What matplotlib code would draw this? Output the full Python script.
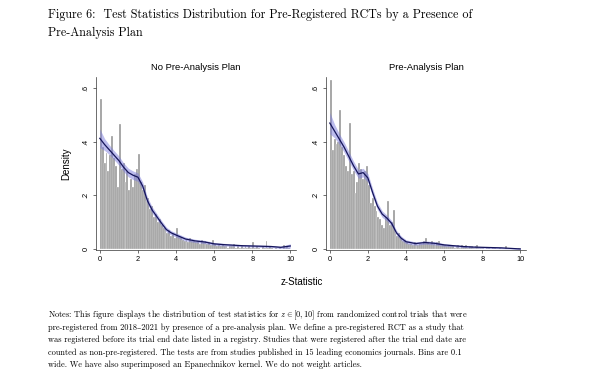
import numpy as np
import matplotlib
matplotlib.use('Agg')
import matplotlib.pyplot as plt

plt.rcParams['mathtext.fontset'] = 'cm'

# histogram heights (density), bins of width 0.1 from 0 to 10
no_pap = [0.56, 0.38, 0.32, 0.36, 0.29, 0.35, 0.42, 0.34, 0.31, 0.23,
          0.465, 0.30, 0.32, 0.25, 0.29, 0.22, 0.26, 0.23, 0.28, 0.30,
          0.355, 0.25, 0.22, 0.24, 0.18, 0.19, 0.15, 0.16, 0.12, 0.13,
          0.10, 0.11, 0.09, 0.08, 0.075, 0.06, 0.07, 0.05, 0.055, 0.04,
          0.08, 0.05, 0.045, 0.035, 0.03, 0.035, 0.025, 0.04, 0.03, 0.03,
          0.025, 0.03, 0.02, 0.035, 0.025, 0.03, 0.02, 0.025, 0.015, 0.035,
          0.02, 0.01, 0.015, 0.01, 0.015, 0.01, 0.01, 0.005, 0.01, 0.01,
          0.02, 0.005, 0.01, 0.005, 0.01, 0.005, 0.01, 0.005, 0.01, 0.005,
          0.025, 0.005, 0.01, 0.005, 0.0, 0.01, 0.005, 0.03, 0.005, 0.01,
          0.005, 0.0, 0.005, 0.0, 0.005, 0.0, 0.015, 0.005, 0.01, 0.005]
pap = [0.63, 0.37, 0.41, 0.39, 0.40, 0.52, 0.38, 0.35, 0.31, 0.29,
       0.47, 0.28, 0.29, 0.21, 0.25, 0.32, 0.30, 0.26, 0.29, 0.31,
       0.24, 0.17, 0.19, 0.16, 0.14, 0.12, 0.11, 0.09, 0.08, 0.12,
       0.18, 0.09, 0.10, 0.145, 0.06, 0.05, 0.06, 0.04, 0.03, 0.035,
       0.025, 0.02, 0.02, 0.015, 0.025, 0.02, 0.015, 0.02, 0.02, 0.03,
       0.04, 0.025, 0.02, 0.03, 0.02, 0.015, 0.025, 0.03, 0.015, 0.02,
       0.015, 0.01, 0.015, 0.01, 0.01, 0.005, 0.01, 0.015, 0.005, 0.015,
       0.01, 0.015, 0.005, 0.01, 0.01, 0.005, 0.01, 0.015, 0.005, 0.005,
       0.005, 0.0, 0.005, 0.005, 0.0, 0.005, 0.005, 0.0, 0.0, 0.005,
       0.0, 0.0, 0.01, 0.0, 0.0, 0.0, 0.0, 0.0, 0.0, 0.005]

# kernel density line and confidence band half-width
kde_x = [0, 0.25, 0.5, 0.75, 1.0, 1.25, 1.5, 1.75, 2.0, 2.25, 2.5, 2.75, 3.0, 3.25,
         3.5, 3.75, 4.0, 4.5, 5.0, 5.5, 6.0, 6.5, 7.0, 7.5, 8.0, 8.5, 9.0, 9.5, 10.0]
kde_no_pap = [0.413, 0.39, 0.37, 0.35, 0.33, 0.305, 0.285, 0.275, 0.268, 0.235, 0.18,
              0.145, 0.12, 0.095, 0.072, 0.06, 0.052, 0.037, 0.03, 0.026, 0.019, 0.016,
              0.014, 0.012, 0.011, 0.01, 0.009, 0.006, 0.011]
band_no_pap = [0.035, 0.022, 0.018, 0.017, 0.017, 0.016, 0.016, 0.016, 0.016, 0.015,
               0.013, 0.012, 0.011, 0.01, 0.009, 0.008, 0.008, 0.007, 0.006, 0.006,
               0.005, 0.005, 0.004, 0.004, 0.004, 0.004, 0.004, 0.004, 0.008]
kde_pap = [0.47, 0.44, 0.41, 0.38, 0.345, 0.31, 0.28, 0.285, 0.265, 0.21, 0.16, 0.13,
           0.115, 0.095, 0.06, 0.04, 0.027, 0.02, 0.024, 0.021, 0.015, 0.012, 0.009,
           0.007, 0.006, 0.005, 0.004, 0.002, 0.0]
band_pap = [0.04, 0.025, 0.02, 0.019, 0.018, 0.017, 0.016, 0.016, 0.016, 0.015, 0.013,
            0.012, 0.011, 0.01, 0.009, 0.008, 0.007, 0.006, 0.006, 0.006, 0.005, 0.004,
            0.004, 0.003, 0.003, 0.003, 0.003, 0.002, 0.003]

panel_titles = ['No Pre-Analysis Plan', 'Pre-Analysis Plan']
bin_edges = np.arange(0, 10, 0.1)

title_lines = ['Figure 6:  Test Statistics Distribution for Pre-Registered RCTs by a Presence of',
               'Pre-Analysis Plan']
notes_lines = [
    r'Notes: This figure displays the distribution of test statistics for $z \in [0, 10]$ from randomized control trials that were',
    'pre-registered from 2018\u20132021 by presence of a pre-analysis plan. We define a pre-registered RCT as a study that',
    'was registered before its trial end date listed in a registry. Studies that were registered after the trial end date are',
    'counted as non-pre-registered. The tests are from studies published in 15 leading economics journals. Bins are 0.1',
    'wide. We have also superimposed an Epanechnikov kernel. We do not weight articles.',
]

fig = plt.figure(figsize=(6, 3.69), dpi=100)
W, H = 600, 369

for i, line in enumerate(title_lines):
    fig.text(48 / W, 1 - (15 + 18 * i) / H, line, family=['cmr10', 'DejaVu Serif'],
             fontsize=8.7, va='center', ha='left')
for i, line in enumerate(notes_lines):
    fig.text(48 / W, 1 - (315 + 12.5 * i) / H, line, family=['cmr10', 'DejaVu Serif'],
             fontsize=6.0, va='center', ha='left')

sans = 'Liberation Sans'
left_px = [96, 326]
data = [(no_pap, kde_no_pap, band_no_pap), (pap, kde_pap, band_pap)]
for k in range(2):
    ax = fig.add_axes([left_px[k] / W, 1 - 250 / H, 200 / W, 173 / H])
    heights, kde, band = data[k]
    ax.bar(bin_edges, heights, width=0.1, align='edge', color='#9c9c9c',
           edgecolor='white', linewidth=0.2)
    kx = np.array(kde_x)
    ky = np.array(kde)
    kb = np.array(band)
    ax.fill_between(kx, ky - kb, ky + kb, color='#7b7bdc', alpha=0.5, linewidth=0)
    ax.plot(kx, ky, color='#14145a', lw=0.9)
    ax.set_xlim(-0.2, 10.3)
    ax.set_ylim(-0.004, 0.642)
    ax.set_xticks([0, 2, 4, 6, 8, 10])
    ax.set_yticks([0, 0.2, 0.4, 0.6])
    ax.set_yticklabels(['0', '.2', '.4', '.6'], rotation=90, va='center')
    for s in ['top', 'right']:
        ax.spines[s].set_visible(False)
    for s in ['left', 'bottom']:
        ax.spines[s].set_linewidth(0.5)
        ax.spines[s].set_color('#333333')
    ax.tick_params(length=2.5, width=0.5, labelsize=5.3, pad=2, color='#333333')
    for lab in ax.get_xticklabels() + ax.get_yticklabels():
        lab.set_family(sans)
    ax.set_title(panel_titles[k], family=sans, fontsize=6.8, pad=5)
    if k == 0:
        ax.set_ylabel('Density', family=sans, fontsize=7, labelpad=8)

fig.text(302 / W, 1 - 282 / H, 'z-Statistic', family=sans, fontsize=7,
         ha='center', va='center')

fig.savefig('out.png', dpi=100)
